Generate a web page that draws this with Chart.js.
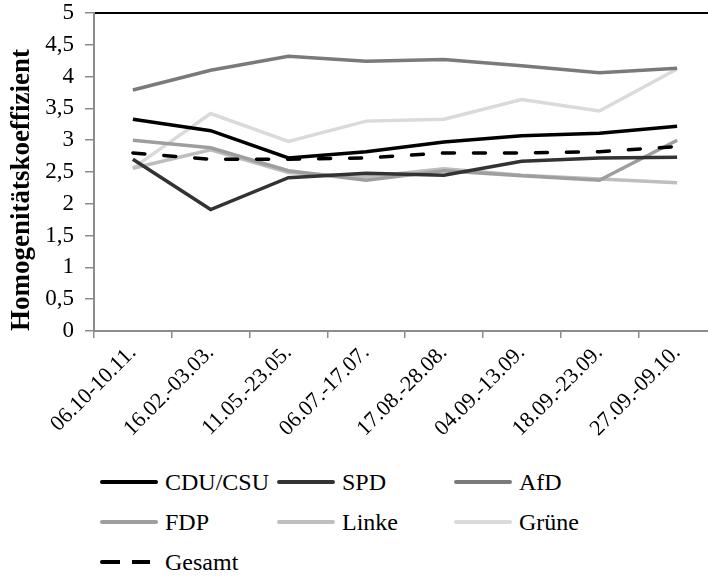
<!DOCTYPE html>
<html>
<head>
<meta charset="utf-8">
<script src="https://cdn.jsdelivr.net/npm/chart.js@4"></script>
<style>
  html, body { margin: 0; padding: 0; background: #fff; overflow: hidden; }
  body { width: 708px; height: 577px; position: relative; font-family: 'Liberation Serif', serif; }
  #wrap { position: absolute; left: 0; top: 0; width: 720px; height: 450px; }
  #legend { position: absolute; left: 100px; top: 465px; display: grid; grid-template-columns: 177px 177px 177px; row-gap: 6px; }
  .item { display: flex; align-items: center; height: 34px; font-family: 'Liberation Serif', serif; font-size: 24px; color: #000; }
  .swatch { width: 58px; height: 4px; margin-right: 7px; border-radius: 2px; }
</style>
</head>
<body>
<div id="wrap"><canvas id="chart" width="720" height="450"></canvas></div>
<div id="legend"></div>
<script>
const periods = ["06.10-10.11.", "16.02.-03.03.", "11.05.-23.05.", "06.07.-17.07.",
  "17.08.-28.08.", "04.09.-13.09.", "18.09.-23.09.", "27.09.-09.10."];

const cdu    = [3.33, 3.15, 2.72, 2.82, 2.97, 3.07, 3.11, 3.22];
const spd    = [2.70, 1.91, 2.41, 2.48, 2.45, 2.67, 2.72, 2.73];
const afd    = [3.79, 4.10, 4.32, 4.24, 4.27, 4.17, 4.06, 4.13];
const fdp    = [3.00, 2.88, 2.52, 2.37, 2.52, 2.44, 2.37, 3.00];
const linke  = [2.56, 2.85, 2.49, 2.42, 2.55, 2.45, 2.39, 2.33];
const gruene = [2.56, 3.42, 2.98, 3.30, 3.33, 3.64, 3.46, 4.12];
const gesamt = [2.80, 2.70, 2.70, 2.72, 2.80, 2.80, 2.82, 2.90];

const yTicks = [0, 0.5, 1, 1.5, 2, 2.5, 3, 3.5, 4, 4.5, 5];

const serif = "Liberation Serif";
Chart.defaults.font.family = serif;

function series(label, data, color, dash) {
  return {
    label,
    data,
    borderColor: color,
    backgroundColor: color,
    borderWidth: 3.5,
    borderDash: dash || [],
    borderCapStyle: dash ? "round" : "butt",
    pointRadius: 0,
    tension: 0,
    fill: false
  };
}

const datasets = [
  series("CDU/CSU", cdu, "#000000"),
  series("SPD", spd, "#333333"),
  series("AfD", afd, "#7a7a7a"),
  series("FDP", fdp, "#9e9e9e"),
  series("Linke", linke, "#bebebe"),
  series("Grüne", gruene, "#dadada"),
  series("Gesamt", gesamt, "#000000", [12, 19])
];
// later series drawn under earlier ones, Gesamt on top
datasets.forEach((d, i) => { d.order = i; });
datasets[6].order = -1;

new Chart(document.getElementById("chart"), {
  type: "line",
  data: { labels: periods, datasets },
  options: {
    responsive: false,
    animation: false,
    layout: { padding: { top: 13, right: 4, left: 0, bottom: 0 } },
    plugins: { legend: { display: false }, tooltip: { enabled: false } },
    scales: {
      x: {
        type: "category",
        offset: true,
        afterFit: s => { s.height = 119; },
        grid: { offset: true, drawOnChartArea: false, drawTicks: true, tickLength: 7, color: "#8c8c8c", lineWidth: 1.5 },
        border: { color: "#8c8c8c", width: 2 },
        ticks: { color: "#000", font: { family: serif, size: 22 }, minRotation: 45, maxRotation: 45, padding: 2, autoSkip: false }
      },
      xTop: {
        type: "category",
        position: "top",
        afterFit: s => { s.height = 0; },
        grid: { display: false },
        ticks: { display: false },
        border: { color: "#000", width: 2 }
      },
      y: {
        min: 0,
        max: 5,
        afterFit: s => { s.width = 94; s.paddingTop = 0; s.paddingBottom = 0; },
        afterBuildTicks: s => { s.ticks = yTicks.map(v => ({ value: v })); },
        grid: { drawOnChartArea: false, drawTicks: true, tickLength: 9, color: "#8c8c8c", lineWidth: 1.5 },
        border: { color: "#8c8c8c", width: 2 },
        ticks: {
          color: "#000",
          autoSkip: false,
          font: { family: serif, size: 23 },
          padding: 11,
          callback: v => String(v).replace(".", ",")
        },
        title: {
          display: true,
          text: "Homogenitätskoeffizient",
          align: "start",
          color: "#000",
          font: { family: serif, size: 27, weight: "bold" },
          padding: { top: 6, bottom: 0 }
        }
      }
    }
  }
});

// legend below the chart, built from the datasets
const legend = document.getElementById("legend");
datasets.forEach(d => {
  const item = document.createElement("div");
  item.className = "item";
  const sw = document.createElement("span");
  sw.className = "swatch";
  if (d.borderDash.length) {
    const c = d.borderColor;
    sw.style.background = "linear-gradient(to right, " + c + " 0 20px, transparent 20px 32px, " + c + " 32px 50px, transparent 50px)";
  } else {
    sw.style.background = d.borderColor;
  }
  item.appendChild(sw);
  item.appendChild(document.createTextNode(d.label));
  legend.appendChild(item);
});
</script>
</body>
</html>
